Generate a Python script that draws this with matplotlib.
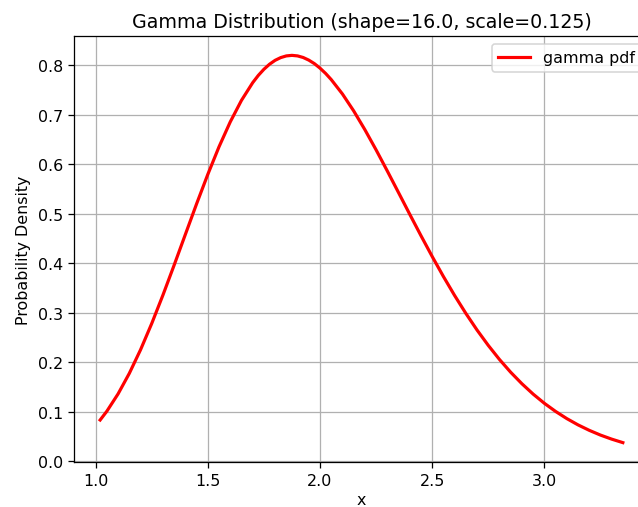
import matplotlib
matplotlib.use("Agg")
import matplotlib.pyplot as plt

# values
x = [1.02, 1.05, 1.10, 1.15, 1.20, 1.25, 1.30, 1.35, 1.40, 1.45, 1.50, 1.55,
     1.60, 1.65, 1.70, 1.725, 1.75, 1.775, 1.80, 1.825, 1.85, 1.875, 1.90,
     1.925, 1.95, 1.975, 2.00, 2.025, 2.05, 2.10, 2.15,
     2.20, 2.25, 2.30, 2.35, 2.40, 2.45, 2.50, 2.55, 2.60, 2.65, 2.70, 2.75,
     2.80, 2.85, 2.90, 2.95, 3.00, 3.05, 3.10, 3.15, 3.20, 3.25, 3.30, 3.35]
pdf = [0.0828, 0.1006, 0.1356, 0.1770, 0.2246, 0.2778, 0.3353, 0.3959,
       0.4579, 0.5196, 0.5791, 0.6349, 0.6851, 0.7286, 0.7643, 0.7790,
       0.7914, 0.8016, 0.8095, 0.8150, 0.8184, 0.8195, 0.8184,
       0.8152, 0.8099, 0.8028, 0.7937, 0.7830, 0.7706, 0.7415, 0.7074,
       0.6694, 0.6286, 0.5859, 0.5423, 0.4985, 0.4553, 0.4132, 0.3728,
       0.3344, 0.2983, 0.2646, 0.2336, 0.2051, 0.1793, 0.1561, 0.1352,
       0.1166, 0.1002, 0.0857, 0.0730, 0.0620, 0.0524, 0.0442, 0.0371]

dpi = 114
fig = plt.figure(figsize=(638 / dpi, 508 / dpi), dpi=dpi)
ax = fig.add_axes([74 / 638, 45 / 508, 575 / 638, 426 / 508])

ax.plot(x, pdf, color="red", lw=2, label="gamma pdf")
ax.set_title("Gamma Distribution (shape=16.0, scale=0.125)")
ax.set_xlabel("x", labelpad=2.5)
ax.set_ylabel("Probability Density")
ax.grid(True)
ax.legend(loc="upper right")

fig.savefig("out.png", dpi=dpi)
